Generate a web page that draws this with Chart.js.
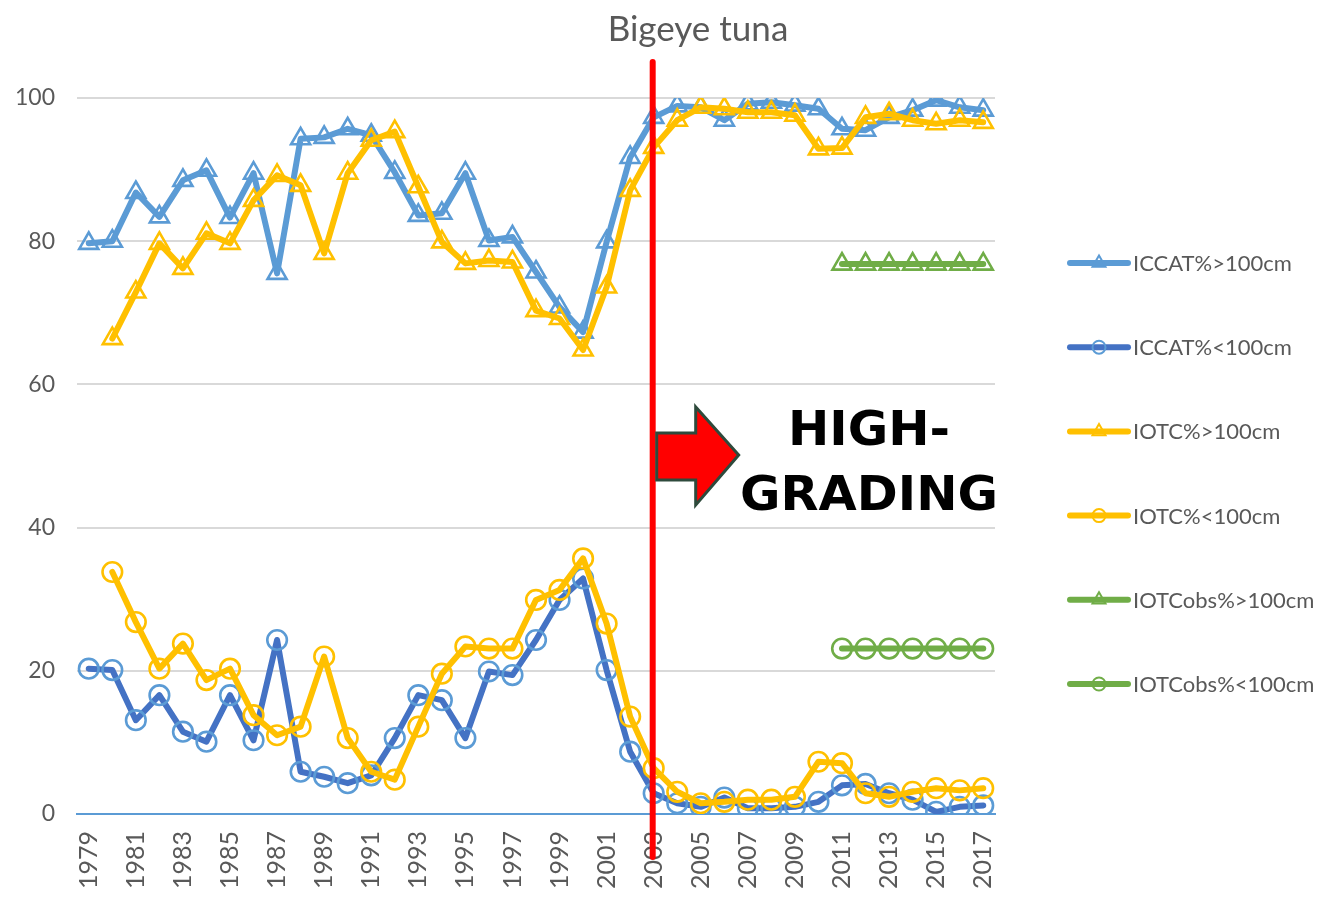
<!DOCTYPE html>
<html>
<head>
<meta charset="utf-8">
<script src="https://cdn.jsdelivr.net/npm/chart.js@4.4.1/dist/chart.umd.min.js"></script>
<style>
  html, body { margin: 0; padding: 0; background: #ffffff; }
  #wrap { width: 1340px; height: 898px; }
</style>
</head>
<body>
<div id="wrap"><canvas id="c" width="1340" height="898"></canvas></div>
<script>
// ---------- DATA ----------
const years = ['1979','1980','1981','1982','1983','1984','1985','1986','1987','1988',
  '1989','1990','1991','1992','1993','1994','1995','1996','1997','1998',
  '1999','2000','2001','2002','2003','2004','2005','2006','2007','2008',
  '2009','2010','2011','2012','2013','2014','2015','2016','2017'];

const iccatOver = [79.7, 80.0, 86.8, 83.4, 88.5, 89.9, 83.3, 89.5, 75.5, 94.3,
  94.5, 95.7, 94.8, 89.6, 83.6, 83.9, 89.5, 80.1, 80.6, 75.7,
  70.8, 67.3, 79.9, 91.7, 97.3, 98.9, 98.7, 96.9, 99.2, 99.4,
  99.0, 98.5, 95.7, 95.5, 97.3, 98.3, 99.7, 98.7, 98.3];

const iccatUnder = [20.3, 20.1, 13.1, 16.6, 11.5, 10.1, 16.6, 10.3, 24.3, 5.9,
  5.2, 4.3, 5.4, 10.6, 16.6, 15.9, 10.6, 19.9, 19.4, 24.3,
  29.9, 32.9, 20.1, 8.7, 2.9, 1.5, 1.0, 2.3, 0.8, 0.8,
  1.0, 1.7, 4.0, 4.2, 2.9, 2.0, 0.3, 1.0, 1.2];

const iotcOver = [null, 66.4, 72.9, 79.7, 76.2, 81.1, 79.7, 85.7, 89.2, 87.8,
  78.3, 89.5, 94.1, 95.3, 87.6, 79.9, 76.9, 77.3, 77.1, 70.3,
  69.2, 64.8, 73.6, 87.1, 93.1, 96.9, 98.7, 98.5, 98.0, 98.0,
  97.6, 92.9, 93.0, 97.3, 97.8, 96.9, 96.4, 96.9, 96.6];

const iotcUnder = [null, 33.8, 26.8, 20.3, 23.8, 18.7, 20.3, 13.8, 11.0, 12.2,
  22.0, 10.6, 5.9, 4.8, 12.2, 19.6, 23.4, 23.1, 23.1, 29.9,
  31.3, 35.7, 26.6, 13.6, 6.4, 3.1, 1.5, 1.7, 2.0, 2.0,
  2.4, 7.3, 7.1, 2.9, 2.4, 3.1, 3.6, 3.3, 3.6];

const obsYears = ['2011','2012','2013','2014','2015','2016','2017'];
const obsOver  = [76.8, 76.8, 76.8, 76.8, 76.8, 76.8, 76.8];
const obsUnder = [23.1, 23.1, 23.1, 23.1, 23.1, 23.1, 23.1];

const seriesNames = ['ICCAT%>100cm','ICCAT%<100cm','IOTC%>100cm','IOTC%<100cm','IOTCobs%>100cm','IOTCobs%<100cm'];
const yTicks = [0, 20, 40, 60, 80, 100];
const chartTitle = 'Bigeye tuna';
const noteLines = ['HIGH-', 'GRADING'];
const markYear = '2003';

// ---------- STYLES ----------
const TXT = '#595959';
const styles = [
  { line: '#5B9BD5', mark: '#5B9BD5', shape: 'triangle' },
  { line: '#4472C4', mark: '#5B9BD5', shape: 'circle' },
  { line: '#FFC000', mark: '#FFC000', shape: 'triangle' },
  { line: '#FFC000', mark: '#FFC000', shape: 'circle' },
  { line: '#70AD47', mark: '#70AD47', shape: 'triangle' },
  { line: '#70AD47', mark: '#70AD47', shape: 'circle' }
];
const toPts = (ys, vals) => ys.map((y, i) => ({ x: y, y: vals[i] }));
const seriesData = [iccatOver, iccatUnder, iotcOver, iotcUnder,
  toPts(obsYears, obsOver), toPts(obsYears, obsUnder)];

const datasets = seriesData.map((d, i) => ({
  label: seriesNames[i],
  data: d,
  borderColor: styles[i].line,
  borderWidth: 6,
  borderJoinStyle: 'round',
  borderCapStyle: 'round',
  tension: 0,
  fill: false,
  pointStyle: styles[i].shape,
  pointRadius: styles[i].shape === 'triangle' ? 11 : 9.8,
  pointHoverRadius: styles[i].shape === 'triangle' ? 11 : 9.8,
  pointBorderColor: styles[i].mark,
  pointBackgroundColor: 'rgba(255,255,255,0)',
  pointBorderWidth: 2.6,
  order: 6 - i
}));

function drawMarker(ctx, shape, x, y, r, color, lw) {
  ctx.save();
  ctx.strokeStyle = color;
  ctx.lineWidth = lw;
  ctx.beginPath();
  if (shape === 'circle') {
    ctx.arc(x, y, r, 0, Math.PI * 2);
  } else {
    let a = 0;
    ctx.moveTo(x + Math.sin(a) * r, y - Math.cos(a) * r);
    a += 2 * Math.PI / 3;
    ctx.lineTo(x + Math.sin(a) * r, y - Math.cos(a) * r);
    a += 2 * Math.PI / 3;
    ctx.lineTo(x + Math.sin(a) * r, y - Math.cos(a) * r);
    ctx.closePath();
  }
  ctx.stroke();
  ctx.restore();
}

const overlay = {
  id: 'overlay',
  afterDraw(chart) {
    const ctx = chart.ctx;
    const xs = chart.scales.x, ys = chart.scales.y;

    // Title
    ctx.save();
    ctx.fillStyle = TXT;
    ctx.font = '35px Lato';
    ctx.textAlign = 'center';
    ctx.textBaseline = 'alphabetic';
    ctx.fillText(chartTitle, 698, 41);
    ctx.restore();

    // Legend
    const lx0 = 1070, lx1 = 1128, ly0 = 263, lstep = 84.2;
    seriesNames.forEach((name, i) => {
      const y = ly0 + i * lstep;
      ctx.save();
      ctx.strokeStyle = styles[i].line;
      ctx.lineWidth = 6;
      ctx.lineCap = 'round';
      ctx.beginPath();
      ctx.moveTo(lx0, y);
      ctx.lineTo(lx1, y);
      ctx.stroke();
      ctx.restore();
      drawMarker(ctx, styles[i].shape, (lx0 + lx1) / 2, y, styles[i].shape === 'triangle' ? 7.5 : 6.5, styles[i].mark, 2);
      ctx.save();
      ctx.fillStyle = TXT;
      ctx.font = '22px Lato';
      ctx.textAlign = 'left';
      ctx.textBaseline = 'middle';
      ctx.fillText(name, 1133, y + 1);
      ctx.restore();
    });

    // Red vertical marker line
    const xm = xs.getPixelForValue(years.indexOf(markYear)) - 1;
    ctx.save();
    ctx.strokeStyle = '#FF0000';
    ctx.lineWidth = 6;
    ctx.lineCap = 'round';
    ctx.beginPath();
    ctx.moveTo(xm, 62);
    ctx.lineTo(xm, 857);
    ctx.stroke();
    ctx.restore();

    // Block arrow
    const yc = ys.getPixelForValue(50);
    ctx.save();
    ctx.fillStyle = '#FF0000';
    ctx.strokeStyle = '#2E4A3C';
    ctx.lineWidth = 3;
    ctx.lineJoin = 'miter';
    ctx.beginPath();
    ctx.moveTo(xm + 4, yc - 23);
    ctx.lineTo(xm + 43, yc - 23);
    ctx.lineTo(xm + 43, yc - 49);
    ctx.lineTo(xm + 86, yc - 1);
    ctx.lineTo(xm + 43, yc + 49);
    ctx.lineTo(xm + 43, yc + 24);
    ctx.lineTo(xm + 4, yc + 24);
    ctx.closePath();
    ctx.fill();
    ctx.stroke();
    ctx.restore();

    // HIGH-GRADING text
    ctx.save();
    ctx.fillStyle = '#000000';
    ctx.font = 'bold 48px "DejaVu Sans"';
    ctx.textBaseline = 'alphabetic';
    ctx.textAlign = 'left';
    const wG = ctx.measureText(noteLines[1]).width;
    const sx = 258 / wG;
    const cx = 869;
    [[noteLines[0], 445], [noteLines[1], 510]].forEach(([t, by]) => {
      const w = ctx.measureText(t).width * sx;
      ctx.save();
      ctx.translate(cx - w / 2, by);
      ctx.scale(sx, 1);
      ctx.fillText(t, 0, 0);
      ctx.restore();
    });
    ctx.restore();
  }
};

new Chart(document.getElementById('c'), {
  type: 'line',
  data: { labels: years, datasets },
  options: {
    responsive: false,
    devicePixelRatio: 1,
    animation: false,
    events: [],
    layout: { padding: { left: 0, right: 345, top: 98, bottom: 0 } },
    plugins: { legend: { display: false }, title: { display: false }, tooltip: { enabled: false } },
    scales: {
      x: {
        type: 'category',
        offset: true,
        grid: { display: false, drawTicks: false },
        border: { display: true, color: '#5B9BD5', width: 2 },
        ticks: {
          autoSkip: false,
          maxRotation: 90,
          minRotation: 90,
          padding: 17,
          color: TXT,
          font: { family: 'Lato', size: 25 },
          callback: (v, i) => (i % 2 === 0 ? years[i] : '')
        },
        afterFit: (s) => { s.height = 84; }
      },
      y: {
        min: 0,
        max: 100,
        afterBuildTicks: (s) => { s.ticks = yTicks.map(v => ({ value: v })); },
        grid: {
          drawTicks: false,
          lineWidth: 2,
          color: (c) => (c.tick && c.tick.value === 0 ? 'rgba(0,0,0,0)' : '#D9D9D9')
        },
        border: { display: false },
        ticks: {
          padding: 22,
          color: TXT,
          font: { family: 'Lato', size: 23 }
        },
        afterFit: (s) => { s.width = 77; }
      }
    }
  },
  plugins: [overlay]
});
</script>
</body>
</html>
